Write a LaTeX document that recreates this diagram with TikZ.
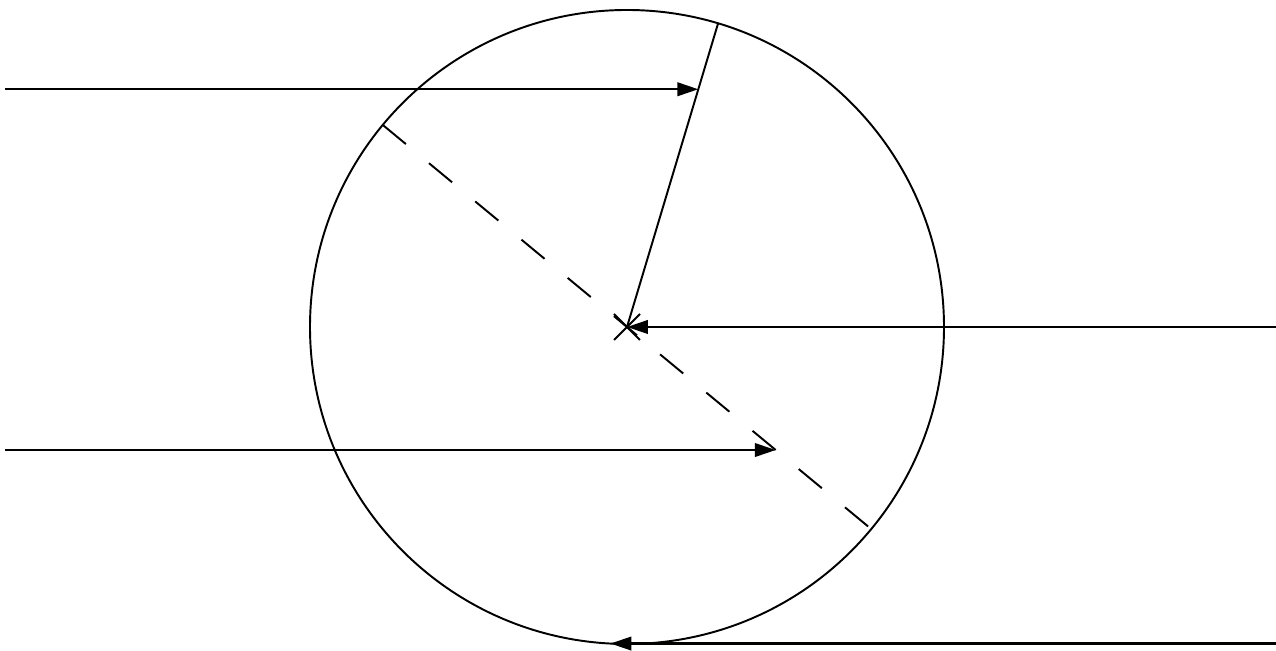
\documentclass[tikz,border=0pt]{standalone}
\usetikzlibrary{arrows.meta,calc}
\begin{document}
\begin{tikzpicture}[x=0.02cm,y=0.02cm,line width=1.1pt,
  ray/.style={line width=1.4pt,-{Triangle[length=0.42cm,width=0.27cm]}},
  axisline/.style={dash pattern=on 0.6cm off 0.6cm}]
\useasboundingbox (0,0) rectangle (1276,651);
% circle and its centre
\coordinate (M) at (627,324);
\coordinate (W) at (5,0);
\coordinate (E) at (1276,0);
\draw (M) circle (317);
\draw (M) +(-13,-13) -- +(13,13) (M) +(-13,13) -- +(13,-13);
% radius and dashed diameter
\coordinate (T) at ($(M)+(73.3:317)$);
\coordinate (A) at ($(M)+(140.4:317)$);
\coordinate (B) at ($(M)+(-39.6:317)$);
\coordinate (S) at ($(M)+(267:317)$);
\draw (T) -- (M);
\draw[axisline] (A) -- (B);
% incoming rays
\coordinate (P) at ($(M)!0.783!(T)$);
\coordinate (Q) at ($(M)!0.609!(B)$);
\draw[ray] (W |- P) -- (P);
\draw[ray] (W |- Q) -- (Q);
\draw[ray] (E |- M) -- (M);
\draw[ray] (E |- S) -- (S);
\end{tikzpicture}
\end{document}
